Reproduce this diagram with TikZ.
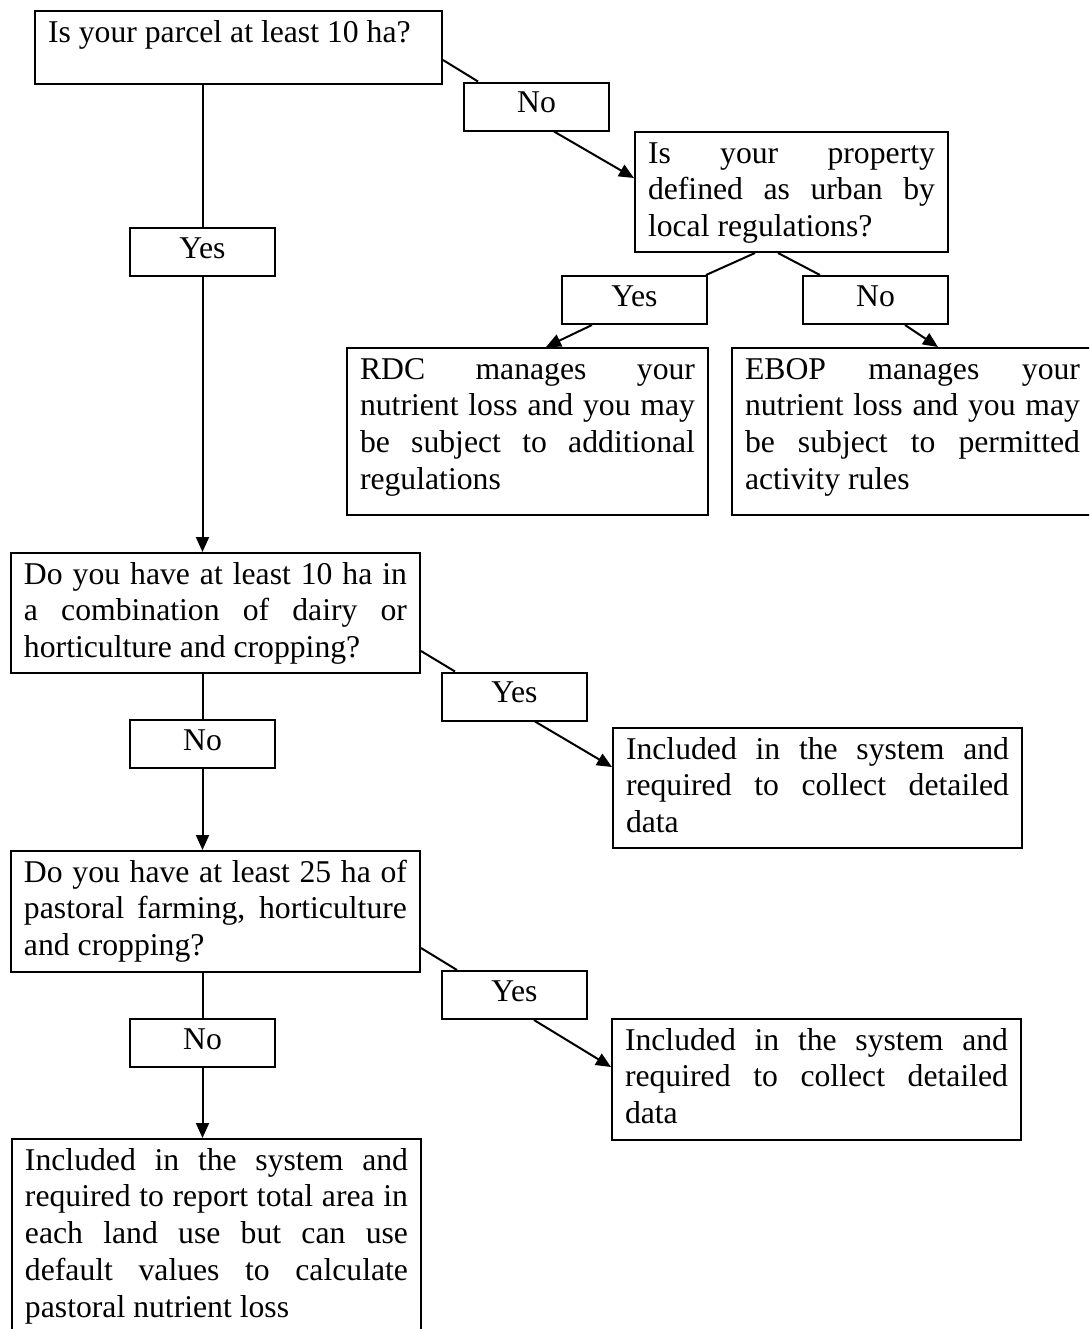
\documentclass[tikz,border=0pt]{standalone}
\usepackage{fontspec}
\setmainfont{Liberation Serif}
\usetikzlibrary{arrows.meta,calc}
\newcommand{\jl}[1]{\makebox[\linewidth][s]{#1}\\}
\newcommand{\fb}{\rule{0pt}{15.5pt}}
\tikzset{
  box/.style={draw, line width=1pt, rectangle, anchor=north west, inner xsep=6.5pt, inner ysep=0pt},
  lab/.style={draw, line width=1pt, rectangle, minimum width=72.5pt, minimum height=24pt, inner sep=0pt, text height=10.5pt, text depth=4.5pt},
  conn/.style={line width=1pt},
  arr/.style={line width=1pt, -{Triangle[length=7.5pt,width=6.5pt]}},
}
\begin{document}
\begin{tikzpicture}[x=0.5pt, y=-0.5pt, font=\fontsize{15.85pt}{18.4pt}\selectfont]
\useasboundingbox (0,0) rectangle (1089,1329);
\clip (0,0) rectangle (1089,1329);

% main boxes
\node[box] (q1) at (34,10) {\parbox[c][36.5pt][t]{190.5pt}{\fb Is your parcel at least 10 ha?}};
\node[box] (q2) at (634,131) {\parbox[c][60pt][t]{143.5pt}{\fb\jl{Is your property}\jl{defined as urban by}local regulations?}};
\node[box] (rdc) at (346,347) {\parbox[c][83.5pt][t]{167.5pt}{\fb\jl{RDC manages your}\jl{nutrient loss and you may}\jl{be subject to additional}regulations}};
\node[box] (ebop) at (731,347) {\parbox[c][83.5pt][t]{167.5pt}{\fb\jl{EBOP manages your}\jl{nutrient loss and you may}\jl{be subject to permitted}activity rules}};
\node[box] (q3) at (10,552) {\parbox[c][60pt][t]{191.5pt}{\fb\jl{Do you have at least 10 ha in}\jl{a combination of dairy or}horticulture and cropping?}};
\node[box] (inc1) at (612,727) {\parbox[c][60pt][t]{191.5pt}{\fb\jl{Included in the system and}\jl{required to collect detailed}data}};
\node[box] (q4) at (10,850) {\parbox[c][60.5pt][t]{191.5pt}{\fb\jl{Do you have at least 25 ha of}\jl{pastoral farming, horticulture}and cropping?}};
\node[box] (inc2) at (611,1018) {\parbox[c][60.5pt][t]{191.5pt}{\fb\jl{Included in the system and}\jl{required to collect detailed}data}};
\node[box] (fin) at (11,1138) {\parbox[c][100pt][t]{191.5pt}{\fb\jl{Included in the system and}\jl{required to report total area in}\jl{each land use but can use}\jl{default values to calculate}pastoral nutrient loss}};

% label boxes
\node[lab] (no1) at (536.5,106.5) {No};
\node[lab] (yes1) at (202.5,252) {Yes};
\node[lab] (yes2) at (634.5,300) {Yes};
\node[lab] (no2) at (875.5,300) {No};
\node[lab] (yes3) at (514.5,696.5) {Yes};
\node[lab] (no3) at (202.5,744) {No};
\node[lab] (yes4) at (514.5,995) {Yes};
\node[lab] (no4) at (202.5,1043) {No};

% connectors
\draw[conn] ($(q1.south east)+(0,-25)$) -- ($(no1.north west)+(15,0)$);
\draw[arr] ($(no1.south west)+(91,0)$) -- ($(q2.north west)+(0,47)$);
\draw[conn] (yes1.north |- q1.south) -- (yes1.north);
\draw[arr] (yes1.south) -- (yes1.south |- q3.north);
\draw[conn] ($(q2.south west)+(121,0)$) -- ($(yes2.north east)+(-2,0)$);
\draw[conn] ($(q2.south west)+(144,0)$) -- ($(no2.north west)+(18,0)$);
\draw[arr] ($(yes2.south west)+(31,0)$) -- ($(rdc.north west)+(200,0)$);
\draw[arr] ($(no2.south west)+(103,0)$) -- ($(ebop.north west)+(207,0)$);
\draw[conn] ($(q3.south east)+(0,-23)$) -- ($(yes3.north west)+(14,0)$);
\draw[arr] ($(yes3.south west)+(94,0)$) -- ($(inc1.north west)+(0,40)$);
\draw[conn] (no3.north |- q3.south) -- (no3.north);
\draw[arr] (no3.south) -- (no3.south |- q4.north);
\draw[conn] ($(q4.south east)+(0,-25)$) -- ($(yes4.north west)+(16,0)$);
\draw[arr] ($(yes4.south west)+(93,0)$) -- ($(inc2.north west)+(0,49)$);
\draw[conn] (no4.north |- q4.south) -- (no4.north);
\draw[arr] (no4.south) -- (no4.south |- fin.north);
\end{tikzpicture}
\end{document}
